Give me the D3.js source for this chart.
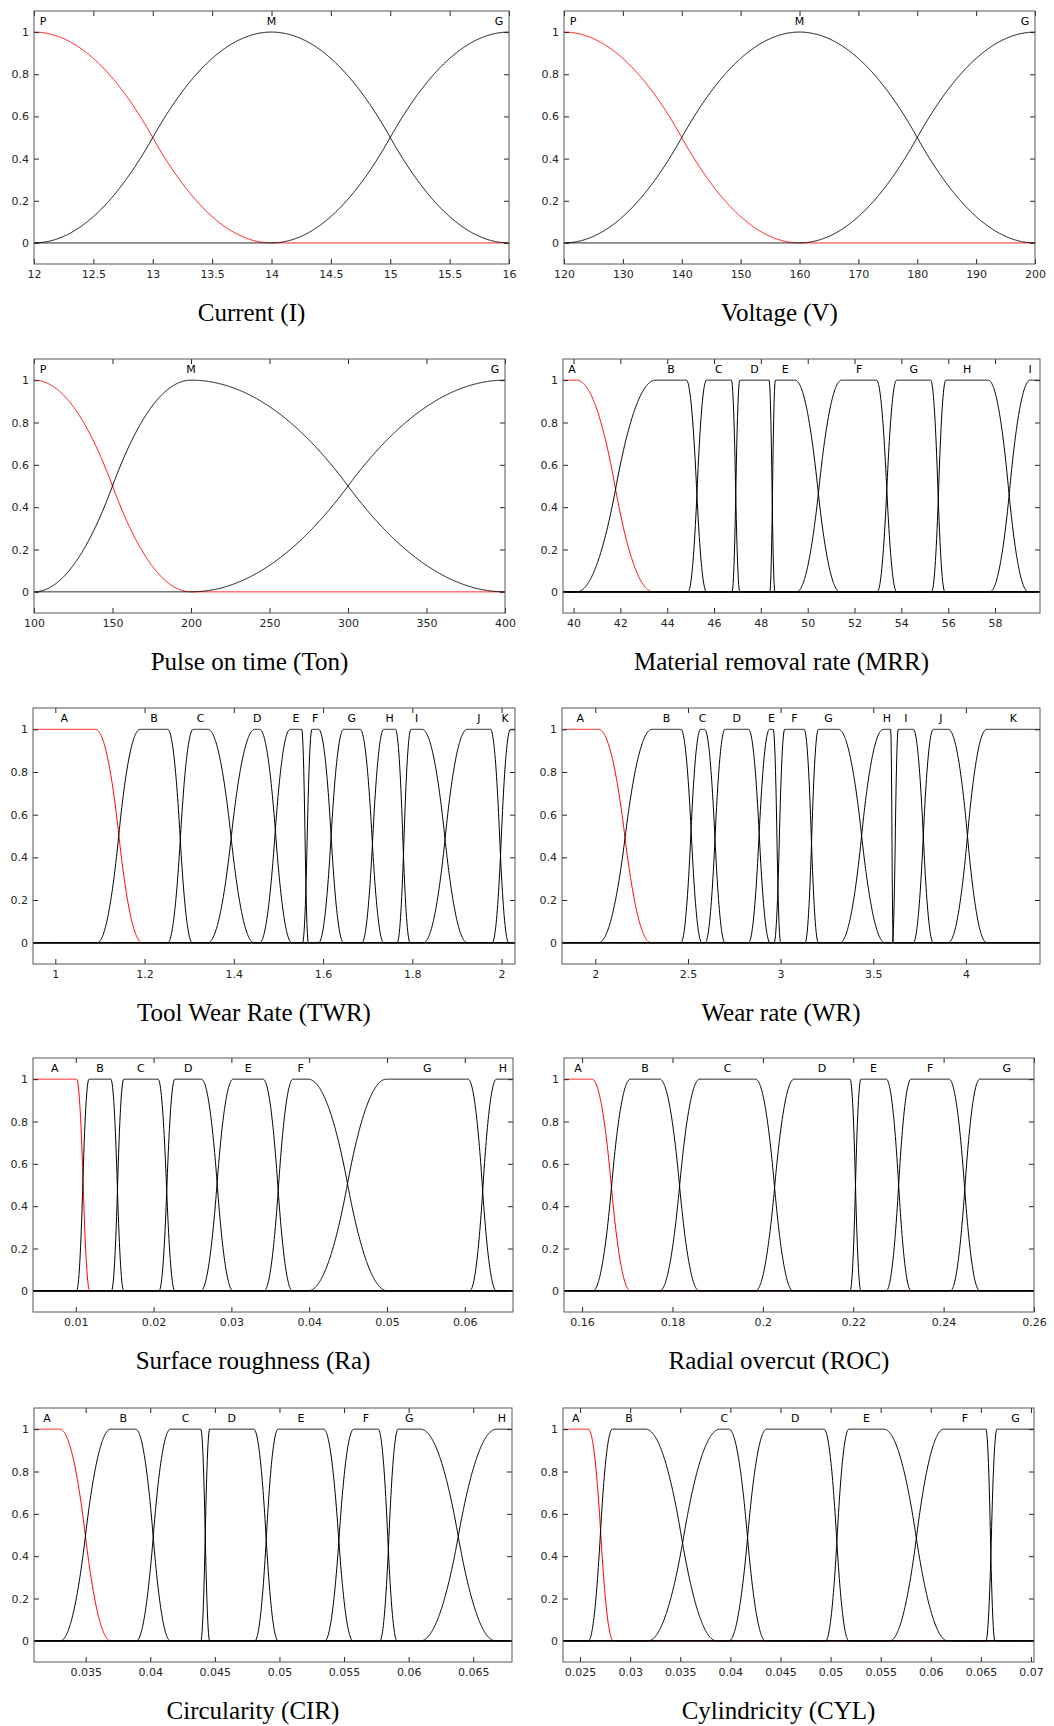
<!DOCTYPE html>
<html>
<head>
<meta charset="utf-8">
<script src="https://cdn.jsdelivr.net/npm/d3@7"></script>
<style>
  body { margin: 0; background: #fff; }
  svg { display: block; }
</style>
</head>
<body>
<svg id="drawing_region"></svg>
<script>
// membership functions: [a, b, c, d] of a pi-shaped curve
// (open shoulders use -Infinity / Infinity)
const I = Infinity;

const currentNames = ['P', 'M', 'G'];
const currentParams = [[-I, -I, 12, 14], [12, 14, 14, 16], [14, 16, I, I]];
const currentTicks = [12, 12.5, 13, 13.5, 14, 14.5, 15, 15.5, 16];

const voltageNames = ['P', 'M', 'G'];
const voltageParams = [[-I, -I, 120, 160], [120, 160, 160, 200], [160, 200, I, I]];
const voltageTicks = [120, 130, 140, 150, 160, 170, 180, 190, 200];

const tonNames = ['P', 'M', 'G'];
const tonParams = [[-I, -I, 100, 200], [100, 200, 200, 400], [200, 400, I, I]];
const tonTicks = [100, 150, 200, 250, 300, 350, 400];

const mrrNames = ['A', 'B', 'C', 'D', 'E', 'F', 'G', 'H', 'I'];
const mrrParams = [
  [-I, -I, 40.14, 43.4], [40.14, 43.5, 44.82, 45.68], [44.89, 45.68, 46.74, 47.1],
  [46.77, 47.1, 48.35, 48.6], [48.38, 48.62, 49.46, 51.38], [49.53, 51.45, 52.94, 53.8],
  [52.97, 53.8, 55.25, 55.86], [55.29, 55.9, 57.71, 59.42], [57.78, 59.5, I, I]
];
const mrrTicks = [40, 42, 44, 46, 48, 50, 52, 54, 56, 58];

const twrNames = ['A', 'B', 'C', 'D', 'E', 'F', 'G', 'H', 'I', 'J', 'K'];
const twrParams = [
  [-I, -I, 1.09, 1.195], [1.094, 1.19, 1.252, 1.307], [1.252, 1.309, 1.342, 1.445],
  [1.342, 1.447, 1.458, 1.53], [1.458, 1.526, 1.552, 1.567], [1.554, 1.575, 1.59, 1.646],
  [1.59, 1.646, 1.683, 1.736], [1.687, 1.736, 1.762, 1.795], [1.766, 1.797, 1.822, 1.923],
  [1.825, 1.923, 1.975, 2.016], [1.979, 2.02, I, I]
];
const twrTicks = [1, 1.2, 1.4, 1.6, 1.8, 2];

const wrNames = ['A', 'B', 'C', 'D', 'E', 'F', 'G', 'H', 'I', 'J', 'K'];
const wrParams = [
  [-I, -I, 2.018, 2.3], [2.018, 2.305, 2.462, 2.575], [2.462, 2.568, 2.59, 2.7],
  [2.593, 2.7, 2.827, 2.943], [2.827, 2.94, 2.96, 3.0], [2.965, 3.022, 3.127, 3.204],
  [3.132, 3.204, 3.312, 3.563], [3.32, 3.554, 3.594, 3.608], [3.603, 3.635, 3.716, 3.824],
  [3.716, 3.824, 3.905, 4.112], [3.905, 4.112, I, I]
];
const wrTicks = [2, 2.5, 3, 3.5, 4];

const raNames = ['A', 'B', 'C', 'D', 'E', 'F', 'G', 'H'];
const raParams = [
  [-I, -I, 0.0101, 0.0118], [0.0101, 0.0117, 0.0145, 0.01617], [0.01458, 0.01617, 0.02058, 0.02273],
  [0.02071, 0.02273, 0.02615, 0.03022], [0.02607, 0.03022, 0.03408, 0.03785],
  [0.03421, 0.03793, 0.03986, 0.05006], [0.03986, 0.04993, 0.06043, 0.06407], [0.06064, 0.06407, I, I]
];
const raTicks = [0.01, 0.02, 0.03, 0.04, 0.05, 0.06];

const rocNames = ['A', 'B', 'C', 'D', 'E', 'F', 'G'];
const rocParams = [
  [-I, -I, 0.1622, 0.1707], [0.1624, 0.1707, 0.1772, 0.1859], [0.1772, 0.186, 0.1984, 0.2067],
  [0.1984, 0.2069, 0.2193, 0.2217], [0.2193, 0.2217, 0.2273, 0.2328], [0.2273, 0.2328, 0.2412, 0.248],
  [0.2415, 0.248, I, I]
];
const rocTicks = [0.16, 0.18, 0.2, 0.22, 0.24, 0.26];

const cirNames = ['A', 'B', 'C', 'D', 'E', 'F', 'G', 'H'];
const cirParams = [
  [-I, -I, 0.033, 0.03694], [0.03304, 0.03694, 0.03887, 0.04156], [0.03892, 0.04156, 0.04391, 0.0446],
  [0.04391, 0.0446, 0.04801, 0.0499], [0.04809, 0.0499, 0.05343, 0.0557], [0.05351, 0.05575, 0.05764, 0.05911],
  [0.05777, 0.05919, 0.06092, 0.06672], [0.06092, 0.0668, I, I]
];
const cirTicks = [0.035, 0.04, 0.045, 0.05, 0.055, 0.06, 0.065];

const cylNames = ['A', 'B', 'C', 'D', 'E', 'F', 'G'];
const cylParams = [
  [-I, -I, 0.02583, 0.02832], [0.02583, 0.02822, 0.03155, 0.03863], [0.03178, 0.03896, 0.03986, 0.04352],
  [0.03986, 0.04362, 0.04934, 0.05183], [0.0495, 0.05183, 0.05532, 0.0617], [0.0559, 0.0613, 0.0655, 0.0664],
  [0.0655, 0.0666, I, I]
];
const cylTicks = [0.025, 0.03, 0.035, 0.04, 0.045, 0.05, 0.055, 0.06, 0.065, 0.07];

const yTicks = [0, 0.2, 0.4, 0.6, 0.8, 1];

var width = 1054;
var height = 1726;
const rowTop = [11, 359, 708, 1058, 1408];
const rowBottom = [264, 613, 964, 1312, 1662];

const panels = [
  {title: 'Current (I)', names: currentNames, params: currentParams, ticks: currentTicks, domain: [12, 16], row: 0, x0: 34, x1: 509},
  {title: 'Voltage (V)', names: voltageNames, params: voltageParams, ticks: voltageTicks, domain: [120, 200], row: 0, x0: 564, x1: 1035},
  {title: 'Pulse on time (Ton)', names: tonNames, params: tonParams, ticks: tonTicks, domain: [100, 400], row: 1, x0: 34, x1: 505},
  {title: 'Material removal rate (MRR)', names: mrrNames, params: mrrParams, ticks: mrrTicks, domain: [39.55, 59.92], row: 1, x0: 563, x1: 1040},
  {title: 'Tool Wear Rate (TWR)', names: twrNames, params: twrParams, ticks: twrTicks, domain: [0.95, 2.03], row: 2, x0: 33, x1: 515},
  {title: 'Wear rate (WR)', names: wrNames, params: wrParams, ticks: wrTicks, domain: [1.82, 4.4], row: 2, x0: 562, x1: 1040},
  {title: 'Surface roughness (Ra)', names: raNames, params: raParams, ticks: raTicks, domain: [0.0045, 0.0662], row: 3, x0: 33, x1: 513},
  {title: 'Radial overcut (ROC)', names: rocNames, params: rocParams, ticks: rocTicks, domain: [0.156, 0.26], row: 3, x0: 564, x1: 1034},
  {title: 'Circularity (CIR)', names: cirNames, params: cirParams, ticks: cirTicks, domain: [0.031, 0.068], row: 4, x0: 34, x1: 512},
  {title: 'Cylindricity (CYL)', names: cylNames, params: cylParams, ticks: cylTicks, domain: [0.0233, 0.0703], row: 4, x0: 563, x1: 1034}
];

const svg = d3.select('#drawing_region')
  .attr('width', width)
  .attr('height', height);

svg.append('rect').attr('width', width).attr('height', height).attr('fill', '#fff');

// pi-shaped membership (spline S rise, flat top, spline Z fall)
function pimf(v, p) {
  const [a, b, c, d] = p;
  let up, down;
  if (v >= b) up = 1;
  else if (v <= a) up = 0;
  else up = v <= (a + b) / 2 ? 2 * ((v - a) / (b - a)) ** 2 : 1 - 2 * ((v - b) / (b - a)) ** 2;
  if (v <= c) down = 1;
  else if (v >= d) down = 0;
  else down = v <= (c + d) / 2 ? 1 - 2 * ((v - c) / (d - c)) ** 2 : 2 * ((v - d) / (d - c)) ** 2;
  return Math.min(up, down);
}

const fmt = d3.format('~g');

panels.forEach(drawPanel);

function drawPanel(p) {
  const y0 = rowTop[p.row], y1 = rowBottom[p.row];
  const lo = p.domain[0], hi = p.domain[1];
  const x = d3.scaleLinear().domain(p.domain).range([p.x0, p.x1]);
  const y = d3.scaleLinear().domain([-0.1, 1.1]).range([y1, y0]);
  const g = svg.append('g');

  const line = d3.line().x(d => x(d[0])).y(d => y(d[1]));

  p.params.forEach((q, i) => {
    let xs = d3.range(0, 1201).map(k => lo + (hi - lo) * k / 1200);
    q.forEach(v => { if (v > lo && v < hi) xs.push(v); });
    xs.sort((m, n) => m - n);
    g.append('path')
      .datum(xs.map(v => [v, pimf(v, q)]))
      .attr('d', line)
      .attr('fill', 'none')
      .attr('stroke', i === 0 ? '#ff0000' : '#000')
      .attr('stroke-width', 1);
  });

  // axes with inward ticks on all sides
  const styleAxis = sel => {
    sel.select('.domain').remove();
    sel.selectAll('.tick line').attr('stroke', '#262626');
    sel.selectAll('.tick text')
      .attr('fill', '#262626')
      .style('font-family', '"DejaVu Sans", sans-serif')
      .style('font-size', '11px');
  };
  g.append('g').attr('transform', `translate(0,${y1})`)
    .call(d3.axisBottom(x).tickValues(p.ticks).tickSize(-5).tickPadding(6).tickFormat(fmt))
    .call(styleAxis);
  g.append('g').attr('transform', `translate(0,${y0})`)
    .call(d3.axisTop(x).tickValues(p.ticks).tickSize(-5).tickFormat(''))
    .call(styleAxis);
  g.append('g').attr('transform', `translate(${p.x0},0)`)
    .call(d3.axisLeft(y).tickValues(yTicks).tickSize(-5).tickPadding(5).tickFormat(fmt))
    .call(styleAxis);
  g.append('g').attr('transform', `translate(${p.x1},0)`)
    .call(d3.axisRight(y).tickValues(yTicks).tickSize(-5).tickFormat(''))
    .call(styleAxis);

  g.append('rect')
    .attr('x', p.x0).attr('y', y0)
    .attr('width', p.x1 - p.x0).attr('height', y1 - y0)
    .attr('fill', 'none')
    .attr('stroke', '#555')
    .attr('stroke-width', 1);

  // set names over the plateau of each function
  p.params.forEach((q, i) => {
    const mid = (Math.max(q[1], lo) + Math.min(q[2], hi)) / 2;
    const px = Math.max(p.x0 + 9, Math.min(p.x1 - 10, x(mid)));
    g.append('text')
      .attr('x', px).attr('y', y0 + 14)
      .attr('text-anchor', 'middle')
      .style('font-family', '"DejaVu Sans", sans-serif')
      .style('font-size', '11px')
      .attr('fill', '#000')
      .text(p.names[i]);
  });

  g.append('text')
    .attr('x', (p.x0 + p.x1) / 2 - 20)
    .attr('y', y1 + 57)
    .attr('text-anchor', 'middle')
    .style('font-family', '"Liberation Serif", "Times New Roman", serif')
    .style('font-size', '25px')
    .attr('fill', '#000')
    .text(p.title);
}
</script>
</body>
</html>
